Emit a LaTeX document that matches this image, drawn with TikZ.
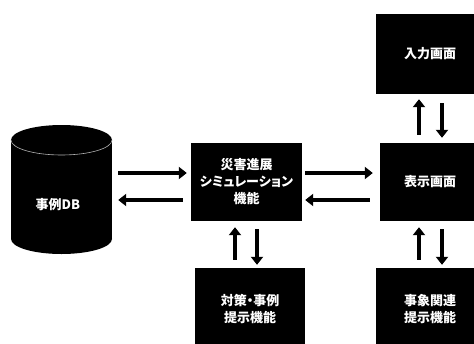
\documentclass[tikz,border=0pt]{standalone}
\usepackage{fontspec}
\newfontfamily\jp{Noto Sans CJK JP}[RawFeature=+palt]
\usetikzlibrary{arrows.meta,calc}
\begin{document}
\begin{tikzpicture}[x=1pt,y=-1pt,
  box/.style={rectangle, fill=black, draw=none, text=white,
    font=\jp\bfseries\fontsize{13}{17}\selectfont, align=center, inner sep=0pt},
  lbl/.style={text=white, font=\jp\bfseries\fontsize{13}{17}\selectfont, inner sep=0pt},
  arr/.style={line width=4.5pt, -{Triangle[width=12pt,length=8pt]}}]
\useasboundingbox[fill=white] (0,0) rectangle (474,343);

% cylinder (事例DB)
\fill[black] (61.5,140) ellipse [x radius=50.5, y radius=15];
\fill[black] (11,140) rectangle (112,239);
\fill[black] (61.5,239) ellipse [x radius=50.5, y radius=15];
\draw[gray!60, line width=0.6pt] (11,140) arc [start angle=180, end angle=0, x radius=50.5, y radius=15];
\node[rectangle, minimum width=101pt, minimum height=129pt, inner sep=0pt] (db) at (61.5,189.5) {};
\node[lbl] (dbtext) at (58,205) {事例DB};

% boxes
\node[box, minimum width=108pt, minimum height=80pt] (input) at (430,54) {入力画面};
\node[box, minimum width=100pt, minimum height=78pt] (disp) at (430,182) {表示画面};
\node[box, minimum width=111pt, minimum height=78pt] (sim) at (246.5,182) {災害進展\\シミュレーション\\機能};
\node[box, minimum width=110pt, minimum height=82pt] (taisaku) at (250,309) {対策・事例\\提示機能};
\node[box, minimum width=108pt, minimum height=82pt] (jisho) at (430,309) {事象関連\\提示機能};

% DB <-> sim
\draw[arr] ($(db.east|-sim.west)+(6,-9)$) -- ($(sim.west)+(-4,-9)$);
\draw[arr] ($(sim.west)+(-8,18)$) -- ($(db.east|-sim.west)+(6,18)$);
% sim <-> disp
\draw[arr] ($(sim.east)+(3,-9)$) -- ($(disp.west)+(-7,-9)$);
\draw[arr] ($(disp.west)+(-10,18)$) -- ($(sim.east)+(3,18)$);
% input <-> disp
\draw[arr] ($(disp.north)+(-11,-8)$) -- ($(input.south)+(-11,5)$);
\draw[arr] ($(input.south)+(12,9)$) -- ($(disp.north)+(12,-5)$);
% sim <-> taisaku
\draw[arr] ($(taisaku.north)+(-15,-8)$) -- ($(sim.south)+(-11.5,6)$);
\draw[arr] ($(sim.south)+(10.5,8)$) -- ($(taisaku.north)+(7,-3)$);
% disp <-> jisho
\draw[arr] ($(jisho.north)+(-11,-8)$) -- ($(disp.south)+(-11,6)$);
\draw[arr] ($(disp.south)+(12,8)$) -- ($(jisho.north)+(12,-3)$);
\end{tikzpicture}
\end{document}
